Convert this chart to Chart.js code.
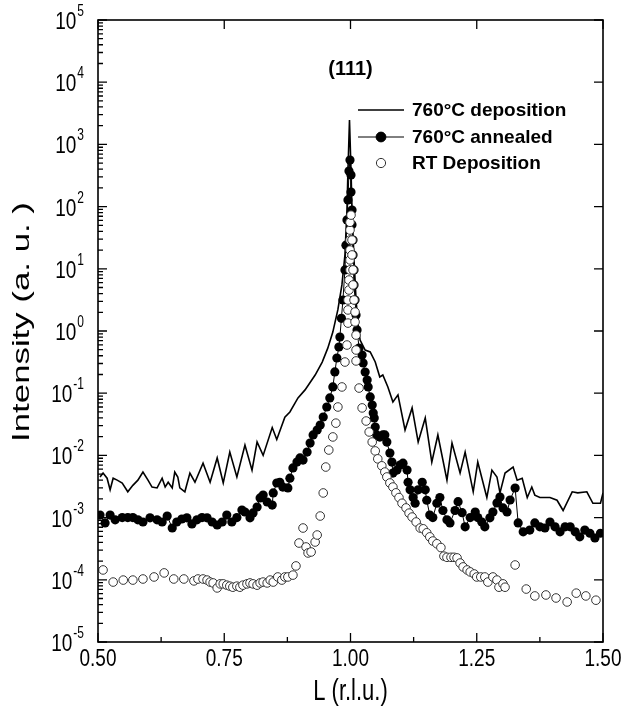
<!DOCTYPE html>
<html>
<head>
<meta charset="utf-8">
<script src="https://cdn.jsdelivr.net/npm/chart.js@4.4.0/dist/chart.umd.min.js"></script>
<style>
  html, body { margin: 0; padding: 0; background: #fff; }
  #wrap { width: 623px; height: 712px; }
</style>
</head>
<body>
<div id="wrap"><canvas id="rodChart"></canvas></div>
<script>
// (111) rod scans: intensity along L for three growth conditions

const depositionL = [0.504,0.510,0.518,0.524,0.530,0.538,0.548,0.559,0.569,0.579,0.589,0.599,0.607,0.617,0.627,0.633,0.639,0.647,0.652,0.658,0.662,0.672,0.682,0.692,0.708,0.722,0.736,0.748,0.761,0.775,0.791,0.805,0.815,0.827,0.845,0.854,0.870,0.880,0.896,0.910,0.930,0.944,0.955,0.965,0.975,0.983,0.989,0.993,0.995,0.998,1.001,1.003,1.007,1.011,1.015,1.019,1.029,1.039,1.049,1.058,1.064,1.074,1.084,1.094,1.108,1.122,1.134,1.148,1.161,1.173,1.191,1.201,1.217,1.227,1.243,1.252,1.270,1.280,1.290,1.296,1.306,1.322,1.330,1.340,1.350,1.359,1.365,1.375,1.395,1.409,1.421,1.439,1.450,1.468,1.480,1.495,1.500];
const depositionI = [4.5e-3,5.2e-3,4.3e-3,2.8e-3,4.3e-3,4.0e-3,3.6e-3,2.6e-3,3.3e-3,4.0e-3,5.4e-3,4.0e-3,3.1e-3,3.0e-3,4.3e-3,3.1e-3,3.7e-3,3.0e-3,5.4e-3,4.5e-3,3.0e-3,2.6e-3,5.2e-3,3.7e-3,7.5e-3,3.7e-3,9.1e-3,3.6e-3,1.13e-2,4.5e-3,1.47e-2,5.8e-3,1.64e-2,1.0e-2,2.8e-2,1.8e-2,4.1e-2,5.0e-2,8.4e-2,0.113,0.196,0.317,0.53,0.96,2.2,5.5,16.7,88,390,2470,390,88,13.9,3.15,1.25,0.717,0.495,0.46,0.318,0.182,0.196,0.126,0.072,0.094,0.0256,0.058,0.0164,0.040,0.0078,0.0213,0.0040,0.0158,0.0052,0.0113,0.0026,0.0078,0.0021,0.0058,0.0045,0.0025,0.0052,0.0065,0.0040,0.0043,0.0021,0.0031,0.0023,0.0021,0.0021,0.0019,0.0013,0.0026,0.0025,0.0026,0.0017,0.0017,0.0025];

const annealedL = [0.504,0.514,0.524,0.534,0.548,0.559,0.569,0.579,0.589,0.603,0.617,0.627,0.637,0.647,0.656,0.666,0.676,0.686,0.696,0.706,0.716,0.726,0.736,0.746,0.755,0.765,0.775,0.785,0.791,0.801,0.807,0.815,0.821,0.827,0.835,0.845,0.847,0.854,0.860,0.866,0.876,0.880,0.886,0.894,0.900,0.906,0.914,0.920,0.926,0.934,0.940,0.946,0.953,0.959,0.965,0.969,0.973,0.977,0.979,0.982,0.985,0.989,0.991,0.993,0.995,0.997,0.999,1.001,1.001,1.003,1.003,1.005,1.005,1.007,1.007,1.009,1.011,1.013,1.017,1.023,1.025,1.029,1.033,1.035,1.039,1.043,1.045,1.047,1.049,1.052,1.058,1.064,1.068,1.072,1.078,1.082,1.084,1.092,1.098,1.104,1.112,1.114,1.118,1.124,1.128,1.134,1.142,1.148,1.151,1.157,1.163,1.171,1.177,1.183,1.191,1.197,1.207,1.213,1.221,1.227,1.237,1.247,1.252,1.260,1.266,1.276,1.282,1.290,1.296,1.302,1.310,1.316,1.326,1.332,1.342,1.355,1.365,1.375,1.385,1.395,1.405,1.415,1.425,1.435,1.445,1.454,1.464,1.474,1.484,1.495];
const annealedI = [1.10e-3,8.2e-4,1.1e-3,9.2e-4,1.0e-3,1.0e-3,1.0e-3,9.2e-4,8.5e-4,9.9e-4,9.2e-4,8.5e-4,1.06e-3,6.8e-4,8.5e-4,9.5e-4,9.9e-4,7.9e-4,9.2e-4,1.0e-3,9.9e-4,8.5e-4,7.6e-4,8.5e-4,1.1e-3,8.5e-4,1.0e-3,1.32e-3,1.23e-3,9.9e-4,1.19e-3,1.48e-3,2.07e-3,2.31e-3,1.78e-3,1.59e-3,2.49e-3,3.6e-3,3.7e-3,3.1e-3,3.0e-3,4.3e-3,6.3e-3,7.8e-3,9.1e-3,8.4e-3,1.13e-2,1.58e-2,2.13e-2,2.56e-2,3.08e-2,4.14e-2,6.0e-2,8.4e-2,0.126,0.22,0.368,0.553,0.80,1.6,3.15,9.6,24,61,128,373,560,322,171,88,51,29,16.7,9.6,5.5,3.15,1.8,1.04,0.533,0.41,0.306,0.219,0.163,0.126,0.087,0.0646,0.048,0.040,0.0286,0.0213,0.0197,0.0213,0.0213,0.0164,0.0109,0.0078,0.0052,0.0058,0.0070,0.0075,0.0058,0.0037,0.0028,0.0021,0.0017,0.0028,0.0037,0.0028,0.0019,0.0011,0.0010,0.0017,0.0021,0.0013,9.2e-4,8.2e-4,0.0013,0.0018,0.0012,7.1e-4,1.0e-3,1.23e-3,1.0e-3,8.5e-4,7.1e-4,9.9e-4,1.23e-3,1.72e-3,2.14e-3,1.43e-3,1.23e-3,1.92e-3,2.99e-3,8.2e-4,5.9e-4,6.3e-4,8.2e-4,7.1e-4,6.8e-4,8.5e-4,7.1e-4,5.9e-4,7.1e-4,7.1e-4,5.9e-4,4.9e-4,6.3e-4,5.6e-4,4.7e-4,5.6e-4];

const roomTempL = [0.510,0.530,0.550,0.569,0.589,0.611,0.631,0.650,0.670,0.690,0.698,0.708,0.716,0.722,0.728,0.736,0.742,0.748,0.755,0.761,0.767,0.775,0.781,0.787,0.795,0.801,0.807,0.815,0.821,0.827,0.835,0.841,0.847,0.856,0.864,0.870,0.876,0.886,0.892,0.898,0.906,0.912,0.916,0.922,0.930,0.934,0.940,0.946,0.951,0.957,0.965,0.971,0.975,0.983,0.989,0.993,0.995,0.995,0.995,0.997,0.997,0.999,0.999,0.999,0.999,0.999,0.999,1.001,1.003,1.003,1.005,1.005,1.007,1.009,1.009,1.011,1.011,1.011,1.017,1.023,1.031,1.037,1.043,1.049,1.054,1.062,1.068,1.072,1.078,1.084,1.090,1.096,1.102,1.110,1.116,1.122,1.130,1.138,1.144,1.151,1.157,1.163,1.171,1.179,1.185,1.191,1.199,1.205,1.211,1.217,1.223,1.231,1.237,1.245,1.250,1.258,1.266,1.272,1.282,1.290,1.294,1.302,1.306,1.326,1.348,1.365,1.387,1.407,1.429,1.447,1.466,1.486];
const roomTempI = [1.44e-4,9.2e-5,9.9e-5,9.9e-5,1.03e-4,1.11e-4,1.29e-4,1.03e-4,1.03e-4,9.6e-5,1.03e-4,1.03e-4,9.9e-5,9.2e-5,8.9e-5,7.4e-5,8.6e-5,8.6e-5,8.2e-5,7.9e-5,7.6e-5,7.9e-5,7.6e-5,8.2e-5,8.6e-5,8.9e-5,8.6e-5,8.2e-5,8.9e-5,9.2e-5,8.9e-5,9.9e-5,9.2e-5,1.11e-4,9.9e-5,1.11e-4,1.11e-4,1.19e-4,1.67e-4,3.9e-4,6.8e-4,3.37e-4,2.7e-4,2.8e-4,4.05e-4,5.25e-4,1.06e-3,2.49e-3,6.5e-3,1.22e-2,1.98e-2,3.3e-2,6.0e-2,0.126,0.317,0.595,1.34,2.18,3.15,4.56,6.6,9.6,13.9,20,29,42,56,73,29,16.7,9.6,5.5,3.15,2.02,1.40,0.86,0.495,0.33,0.121,0.058,0.0357,0.0238,0.0164,0.0118,0.0088,0.0068,0.0054,0.0045,0.0036,0.0031,0.0025,0.0021,0.0017,0.00143,0.00118,0.00102,8.5e-4,6.8e-4,6.6e-4,5.7e-4,4.9e-4,4.2e-4,3.8e-4,3.3e-4,2.4e-4,2.3e-4,2.3e-4,2.3e-4,2.25e-4,1.86e-4,1.61e-4,1.44e-4,1.34e-4,1.24e-4,1.11e-4,1.11e-4,1.11e-4,9.2e-5,1.11e-4,9.9e-5,7.6e-5,8.6e-5,7.6e-5,1.73e-4,7.1e-5,5.5e-5,5.7e-5,5.1e-5,4.4e-5,6.1e-5,5.5e-5,4.7e-5];

// axis ticks
const xMajorTicks = [0.5, 0.75, 1.0, 1.25, 1.5];
const xMinorTicks = [0.625, 0.875, 1.125, 1.375];
const xTickLabels = ['0.50', '0.75', '1.00', '1.25', '1.50'];
const yExponents = [-5, -4, -3, -2, -1, 0, 1, 2, 3, 4, 5];

const seriesNames = ['760\u00B0C deposition', '760\u00B0C annealed', 'RT Deposition'];
const peakLabel = '(111)';
const xTitle = 'L (r.l.u.)';
const yTitle = 'Intensity (a. u. )';

const FONT = '"Liberation Sans", Arial, Helvetica, sans-serif';
const TALL = 1.3; // axis text is drawn a little taller than wide

const toPoints = (xs, ys) => xs.map((v, i) => ({ x: v, y: ys[i] }));

// text stretched vertically around its own anchor
function tallText(ctx, text, x, y, sy) {
  ctx.save();
  ctx.translate(x, y);
  ctx.scale(1, sy);
  ctx.fillText(text, 0, 0);
  ctx.restore();
}

// frame, inward ticks, labels, titles and the legend
const decorations = {
  id: 'decorations',
  afterDraw(chart) {
    const { ctx, chartArea: a, scales: { x, y } } = chart;
    ctx.save();
    ctx.strokeStyle = '#000';
    ctx.fillStyle = '#000';

    // ticks
    ctx.lineWidth = 1.3;
    ctx.beginPath();
    xMajorTicks.forEach(v => {
      const px = x.getPixelForValue(v);
      ctx.moveTo(px, a.bottom); ctx.lineTo(px, a.bottom - 9);
      ctx.moveTo(px, a.top); ctx.lineTo(px, a.top + 9);
    });
    xMinorTicks.forEach(v => {
      const px = x.getPixelForValue(v);
      ctx.moveTo(px, a.bottom); ctx.lineTo(px, a.bottom - 5);
    });
    yExponents.forEach(e => {
      const py = y.getPixelForValue(Math.pow(10, e));
      ctx.moveTo(a.left, py); ctx.lineTo(a.left + 9, py);
      ctx.moveTo(a.right, py); ctx.lineTo(a.right - 9, py);
      if (e < 5) {
        for (let k = 2; k <= 9; k++) {
          const pm = y.getPixelForValue(k * Math.pow(10, e));
          ctx.moveTo(a.left, pm); ctx.lineTo(a.left + 5, pm);
        }
      }
    });
    ctx.stroke();

    // frame
    ctx.lineWidth = 1.6;
    ctx.strokeRect(a.left, a.top, a.right - a.left, a.bottom - a.top);

    // x tick labels
    ctx.font = '19px ' + FONT;
    ctx.textAlign = 'center';
    ctx.textBaseline = 'middle';
    xMajorTicks.forEach((v, i) => {
      tallText(ctx, xTickLabels[i], x.getPixelForValue(v), a.bottom + 17, TALL);
    });

    // y tick labels as powers of ten
    ctx.textAlign = 'left';
    ctx.textBaseline = 'alphabetic';
    yExponents.forEach(e => {
      const py = y.getPixelForValue(Math.pow(10, e));
      const sup = e < 0 ? '-' + Math.abs(e) : String(e);
      ctx.font = '19px ' + FONT;
      const wb = ctx.measureText('10').width;
      ctx.font = '12px ' + FONT;
      const ws = ctx.measureText(sup).width;
      const x0 = a.left - 15 - wb - ws;
      ctx.font = '19px ' + FONT;
      tallText(ctx, '10', x0, py + 9, TALL);
      ctx.font = '12px ' + FONT;
      tallText(ctx, sup, x0 + wb + 1, py - 4, TALL);
    });

    // axis titles
    ctx.font = '22px ' + FONT;
    ctx.textAlign = 'center';
    ctx.textBaseline = 'middle';
    tallText(ctx, xTitle, (a.left + a.right) / 2, 692, TALL);
    ctx.save();
    ctx.translate(22, 322);
    ctx.rotate(-Math.PI / 2);
    ctx.scale(1.45, 1);
    ctx.font = '24px ' + FONT;
    ctx.fillText(yTitle, 0, 0);
    ctx.restore();

    // reflection label
    ctx.font = 'bold 20px ' + FONT;
    ctx.fillText(peakLabel, x.getPixelForValue(1.0), 69);

    // legend
    const rows = [110, 137, 163];
    const lx0 = 358, lx1 = 404, lxm = 381, tx = 412;
    ctx.font = 'bold 19px ' + FONT;
    ctx.textAlign = 'left';
    chart.data.datasets.forEach((ds, i) => {
      const ry = rows[i];
      if (ds.showLine) {
        ctx.lineWidth = ds.borderWidth;
        ctx.beginPath();
        ctx.moveTo(lx0, ry); ctx.lineTo(lx1, ry);
        ctx.stroke();
      }
      if (ds.pointRadius > 0) {
        ctx.beginPath();
        ctx.arc(lxm, ry, ds.pointRadius + 0.3, 0, Math.PI * 2);
        ctx.fillStyle = ds.pointBackgroundColor;
        ctx.fill();
        ctx.lineWidth = 1;
        ctx.strokeStyle = ds.pointBorderColor;
        ctx.stroke();
        ctx.strokeStyle = '#000';
      }
      ctx.fillStyle = '#000';
      ctx.fillText(ds.label, tx, ry + 1);
    });

    ctx.restore();
  }
};

new Chart(document.getElementById('rodChart'), {
  type: 'scatter',
  data: {
    datasets: [
      {
        label: seriesNames[0],
        data: toPoints(depositionL, depositionI),
        showLine: true,
        borderColor: '#000',
        borderWidth: 1.6,
        pointRadius: 0,
        tension: 0,
        order: 2
      },
      {
        label: seriesNames[1],
        data: toPoints(annealedL, annealedI),
        showLine: true,
        borderColor: '#000',
        borderWidth: 1,
        pointRadius: 4.6,
        pointBackgroundColor: '#000',
        pointBorderColor: '#000',
        pointBorderWidth: 0,
        tension: 0,
        order: 1
      },
      {
        label: seriesNames[2],
        data: toPoints(roomTempL, roomTempI),
        showLine: false,
        pointRadius: 4.3,
        pointBackgroundColor: '#fff',
        pointBorderColor: '#333',
        pointBorderWidth: 1,
        order: 0
      }
    ]
  },
  options: {
    responsive: true,
    maintainAspectRatio: false,
    animation: false,
    layout: { padding: { left: 98, right: 20, top: 20, bottom: 70 } },
    plugins: { legend: { display: false }, tooltip: { enabled: false } },
    scales: {
      x: { type: 'linear', min: 0.5, max: 1.5, display: false },
      y: { type: 'logarithmic', min: 1e-5, max: 1e5, display: false }
    }
  },
  plugins: [decorations]
});
</script>
</body>
</html>
